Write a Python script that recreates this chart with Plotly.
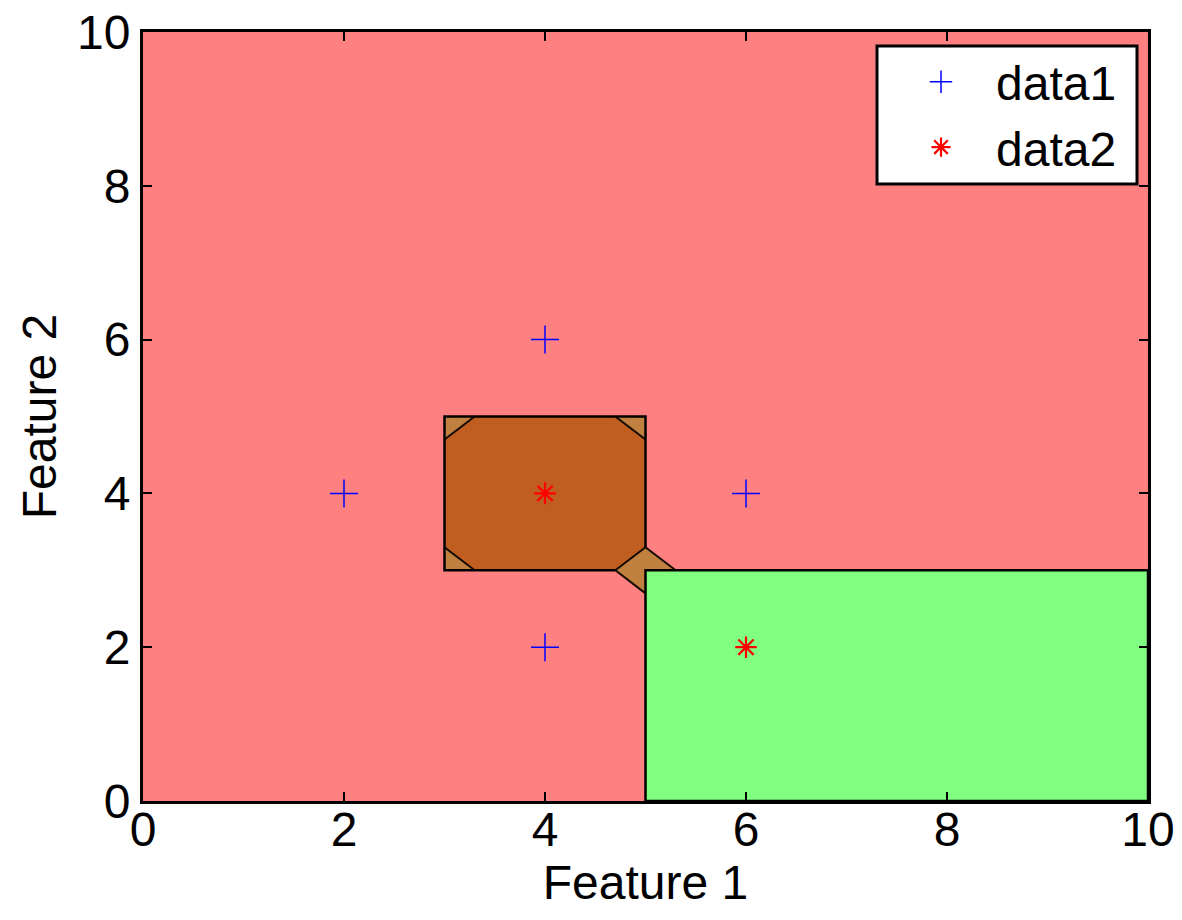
import plotly.graph_objects as go

# ---- data ----
# decision regions (polygons in feature space)
red_region_x = [0, 10, 10, 0, 0]
red_region_y = [0, 0, 10, 10, 0]

box_x = [3, 5, 5, 3, 3]
box_y = [3, 3, 5, 5, 3]

octagon_x = [3.3, 4.7, 5, 5, 4.7, 3.3, 3, 3, 3.3]
octagon_y = [5, 5, 4.7, 3.3, 3, 3, 3.3, 4.7, 5]

diamond_x = [4.7, 5, 5.3, 5, 4.7]
diamond_y = [3, 3.3, 3, 2.7, 3]

green_region_x = [5, 10, 10, 5, 5]
green_region_y = [0, 0, 3, 3, 0]

# boundary lines
box_outline_x = [4.7, 3, 3, 5, 5]
box_outline_y = [3, 3, 5, 5, 3.3]
diag_segments = [
    ([3, 3.3], [4.7, 5]),
    ([4.7, 5], [5, 4.7]),
    ([3, 3.3], [3.3, 3]),
    ([4.7, 5], [3, 3.3]),
    ([5, 5.3], [3.3, 3]),
    ([4.7, 5], [3, 2.7]),
]

# samples
data1_x = [2, 4, 6, 4]
data1_y = [4, 6, 4, 2]
data2_x = [4, 6]
data2_y = [4, 2]

x_ticks = [0, 2, 4, 6, 8, 10]
y_ticks = [0, 2, 4, 6, 8, 10]

RED = "rgb(255,128,128)"
GREEN = "rgb(128,255,128)"
DARK_BROWN = "rgb(191,94,32)"
LIGHT_BROWN = "rgb(192,128,64)"

fig = go.Figure()

def poly(x, y, color):
    fig.add_trace(go.Scatter(x=x, y=y, mode="lines", fill="toself", fillcolor=color,
                             line=dict(width=0, color=color), hoverinfo="skip",
                             showlegend=False))

poly(red_region_x, red_region_y, RED)
poly(box_x, box_y, LIGHT_BROWN)
poly(diamond_x, diamond_y, LIGHT_BROWN)
poly(octagon_x, octagon_y, DARK_BROWN)

# diagonal contour lines
for sx, sy in diag_segments:
    fig.add_trace(go.Scatter(x=sx, y=sy, mode="lines", line=dict(color="rgb(20,10,0)", width=2),
                             hoverinfo="skip", showlegend=False))

fig.add_trace(go.Scatter(x=box_outline_x, y=box_outline_y, mode="lines",
                         line=dict(color="black", width=2.5), hoverinfo="skip", showlegend=False))

fig.add_trace(go.Scatter(x=green_region_x, y=green_region_y, mode="lines", fill="toself",
                         fillcolor=GREEN, line=dict(color="black", width=2.5),
                         hoverinfo="skip", showlegend=False))

fig.add_trace(go.Scatter(x=data1_x, y=data1_y, mode="markers", name="data1",
                         marker=dict(symbol="cross-thin-open", size=20,
                                     line=dict(color="blue", width=1.5), color="blue")))
fig.add_trace(go.Scatter(x=data2_x, y=data2_y, mode="markers", name="data2",
                         marker=dict(symbol="asterisk-open", size=18,
                                     line=dict(color="red", width=2.2), color="red")))

font = dict(family="Liberation Sans, Arial, sans-serif", size=48, color="black")

axis_common = dict(
    range=[0, 10], showgrid=False, zeroline=False, automargin=False,
    showline=True, linecolor="black", linewidth=3, mirror="ticks",
    ticks="inside", ticklen=9, tickwidth=1.5, tickcolor="black",
    tickfont=font, ticklabeloverflow="allow",
)

W, H = 1182, 920
L, R, T, B = 143, 1148, 32, 801  # plot area in pixels

def px_x(p):
    return (p - L) / (R - L)
def px_y(p):
    return (B - p) / (B - T)

fig.add_shape(type="rect", xref="paper", yref="paper",
              x0=px_x(877), x1=px_x(1137), y0=px_y(184), y1=px_y(46),
              fillcolor="white", line=dict(color="black", width=3), layer="above")

fig.update_layout(
    width=W, height=H,
    margin=dict(l=L, r=W - R, t=T, b=H - B),
    paper_bgcolor="white", plot_bgcolor="white",
    font=font,
    xaxis=dict(**axis_common, tickvals=x_ticks, ticktext=[str(v) for v in x_ticks],
               ticklabelstandoff=-16,
               title=dict(text="Feature 1", font=font, standoff=0)),
    yaxis=dict(**axis_common, tickvals=y_ticks, ticktext=[str(v) for v in y_ticks],
               title=dict(text="Feature 2", font=font, standoff=6)),
    legend=dict(x=px_x(886), y=px_y(44), xanchor="left", yanchor="top",
                bgcolor="rgba(0,0,0,0)", borderwidth=0,
                font=dict(family="Liberation Sans, Arial, sans-serif", size=48, color="black"),
                itemwidth=100),
    showlegend=True,
)

fig.write_html("out.html", config={"displayModeBar": False},
               post_script="document.body.style.margin='0';document.body.style.overflow='hidden';")
